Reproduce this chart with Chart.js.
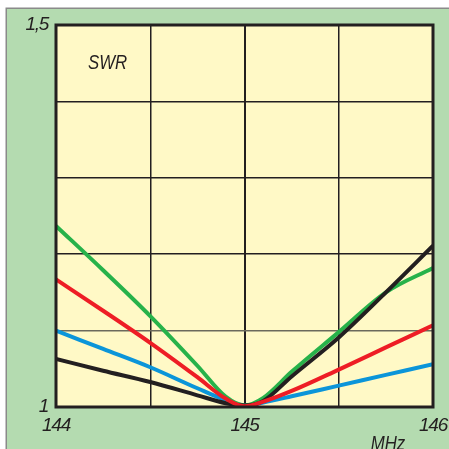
<!DOCTYPE html>
<html>
<head>
<meta charset="utf-8">
<script src="https://cdn.jsdelivr.net/npm/chart.js@4/dist/chart.umd.min.js"></script>
<style>
  html, body { margin: 0; padding: 0; background: #ffffff; }
  #wrap { width: 449px; height: 449px; position: relative; }
</style>
</head>
<body>
<div id="wrap"><canvas id="swr"></canvas></div>
<script>
// Frequency samples (MHz) shared by all curves
const freqs = [144, 144.25, 144.5, 144.75, 144.9, 145, 145.1, 145.25, 145.5, 145.75, 146];

// SWR for the four antenna variants
const swrGreen = [1.237, 1.179, 1.119, 1.054, 1.0135, 1.002, 1.012, 1.046, 1.098, 1.150, 1.182];
const swrRed   = [1.167, 1.126, 1.084, 1.039, 1.011, 1.001, 1.007, 1.021, 1.049, 1.078, 1.107];
const swrBlue  = [1.100, 1.076, 1.052, 1.0245, 1.009, 1.002, 1.006, 1.014, 1.028, 1.042, 1.056];
const swrBlack = [1.063, 1.0475, 1.0327, 1.0153, 1.005, 1.002, 1.008, 1.040, 1.091, 1.150, 1.211];

// Axis labels
const xTickLabels = { 144: '144', 145: '145', 146: '146' };
const yTickLabels = { 1: '1', 1.5: '1,5' };

const FONT = "'Liberation Sans', Arial, sans-serif";
const INK = '#231f20';

const toPoints = (ys) => freqs.map((f, i) => ({ x: f, y: ys[i] }));

// first entry is drawn on top
const series = [
  { data: swrRed,   color: '#ee1d25' },
  { data: swrBlack, color: '#231f20' },
  { data: swrGreen, color: '#27b24a' },
  { data: swrBlue,  color: '#0b95d9' }
];

// Draws condensed italic caption text
function caption(ctx, text, x, y, align) {
  ctx.save();
  ctx.translate(x, y);
  ctx.scale(0.84, 1);
  ctx.textAlign = align;
  ctx.textBaseline = 'alphabetic';
  ctx.fillText(text, 0, 0);
  ctx.restore();
}

// Panel background, frame and plot fill
const backdrop = {
  id: 'backdrop',
  beforeDraw(chart) {
    const { ctx, chartArea: a, width, height } = chart;
    ctx.save();
    ctx.fillStyle = '#ffffff';
    ctx.fillRect(0, 0, width, height);
    ctx.fillStyle = '#b4dbb0';
    ctx.fillRect(6, 8, width - 6, height - 8);
    ctx.strokeStyle = '#8a8a8a';
    ctx.lineWidth = 1.5;
    ctx.beginPath();
    ctx.moveTo(6.25, height);
    ctx.lineTo(6.25, 8.25);
    ctx.lineTo(width, 8.25);
    ctx.stroke();
    ctx.fillStyle = '#fff9c6';
    ctx.fillRect(a.left, a.top, a.right - a.left, a.bottom - a.top);
    ctx.restore();
    // tighter tracking for the tick labels
    ctx.letterSpacing = '-1.3px';
  },
  afterDraw(chart) {
    const { ctx, chartArea: a } = chart;
    ctx.letterSpacing = '0px';
    ctx.save();
    // plot frame
    ctx.strokeStyle = INK;
    ctx.lineWidth = 3;
    ctx.strokeRect(a.left, a.top, a.right - a.left, a.bottom - a.top);
    // captions
    ctx.fillStyle = INK;
    ctx.font = 'italic 20px ' + FONT;
    caption(ctx, 'SWR', 88, 69, 'left');
    caption(ctx, 'MHz', 388, 450, 'center');
    ctx.restore();
  }
};

new Chart(document.getElementById('swr'), {
  type: 'line',
  data: {
    datasets: series.map(s => ({
      data: toPoints(s.data),
      borderColor: s.color,
      borderWidth: 4,
      pointRadius: 0,
      fill: false,
      cubicInterpolationMode: 'monotone'
    }))
  },
  options: {
    responsive: true,
    maintainAspectRatio: false,
    animation: false,
    devicePixelRatio: 1,
    layout: { padding: { left: 0, right: 16, top: 25, bottom: 0 } },
    plugins: { legend: { display: false }, tooltip: { enabled: false } },
    scales: {
      x: {
        type: 'linear',
        min: 144, max: 146,
        afterFit(scale) {
          scale.height = 42;
          scale.paddingLeft = 0;
          scale.paddingRight = 0;
        },
        afterBuildTicks(scale) {
          scale.ticks = [144, 144.5, 145, 145.5, 146].map(v => ({ value: v }));
        },
        border: { display: false },
        grid: {
          drawTicks: false,
          color: INK,
          lineWidth: (c) => (c.tick && c.tick.value === 145 ? 2 : 1.5)
        },
        ticks: {
          padding: 7,
          maxRotation: 0,
          autoSkip: false,
          color: INK,
          font: { family: FONT, size: 19, style: 'italic' },
          callback: (v) => xTickLabels[v] || ''
        }
      },
      y: {
        type: 'linear',
        min: 1, max: 1.5,
        afterFit(scale) {
          scale.width = 56;
          scale.paddingTop = 0;
          scale.paddingBottom = 0;
        },
        afterBuildTicks(scale) {
          scale.ticks = [1, 1.1, 1.2, 1.3, 1.4, 1.5].map(v => ({ value: v }));
        },
        border: { display: false },
        grid: {
          drawTicks: false,
          color: (c) => (c.tick && Math.abs(c.tick.value - 1.1) < 1e-6 ? '#6b6a5c' : INK),
          lineWidth: 1.5
        },
        ticks: {
          padding: 8,
          autoSkip: false,
          color: INK,
          font: { family: FONT, size: 19, style: 'italic' },
          callback: (v) => yTickLabels[Math.round(v * 10) / 10] || ''
        }
      }
    }
  },
  plugins: [backdrop]
});
</script>
</body>
</html>
